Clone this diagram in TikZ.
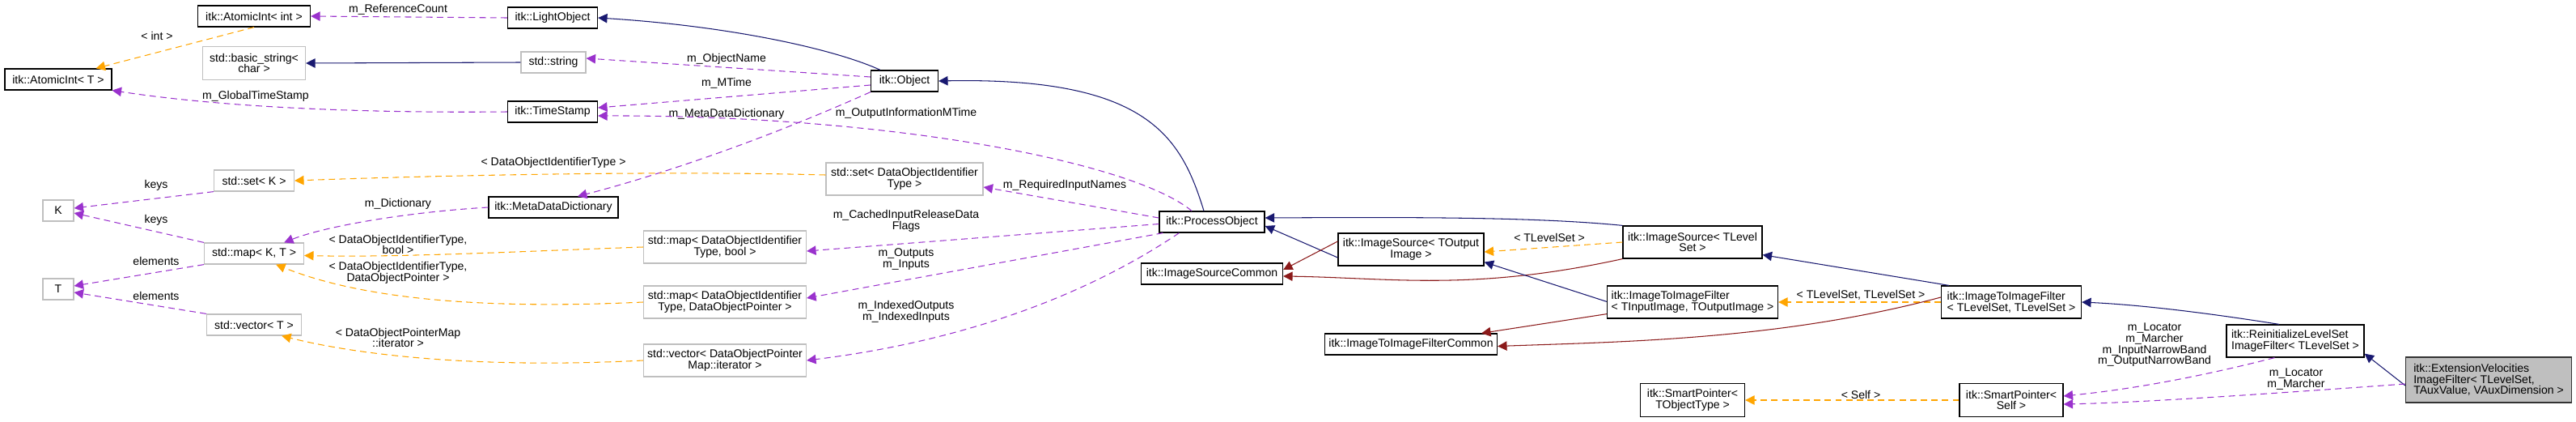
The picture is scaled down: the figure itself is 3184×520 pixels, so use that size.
\documentclass[tikz,border=0pt]{standalone}
\usepackage{fontspec}
\setmainfont{Liberation Sans}
\usetikzlibrary{arrows.meta}
\definecolor{inhcol}{HTML}{191970}
\definecolor{memcol}{HTML}{9A32CD}
\definecolor{tplcol}{HTML}{FFA500}
\definecolor{comcol}{HTML}{8B1A1A}
\definecolor{extcol}{HTML}{BFBFBF}
\begin{document}
\begin{tikzpicture}[x=0.2mm, y=-0.2mm, >={Triangle[length=6.5pt, width=6.5pt]},
    font=\fontsize{8}{7.8}\selectfont,
    sz/.style 2 args={minimum width=#1*0.2mm, minimum height=#2*0.2mm}]
  \tikzstyle{cls} = [draw=black, line width=0.7pt, rectangle, inner sep=0pt, align=center]
  \tikzstyle{ext} = [cls, draw=extcol]
  \tikzstyle{cur} = [cls, fill=extcol, draw=black!80]
  \tikzstyle{lbl} = [inner sep=0pt, align=center]
  \tikzstyle{inh} = [->, draw=inhcol, line width=0.6pt]
  \tikzstyle{memb} = [->, draw=memcol, line width=0.6pt, dash pattern=on 4.5pt off 3pt]
  \tikzstyle{tmpl} = [->, draw=tplcol, line width=0.6pt, dash pattern=on 4.5pt off 3pt]
  \tikzstyle{comm} = [->, draw=comcol, line width=0.6pt]
  \useasboundingbox (0,0) rectangle (3184,520);

  % left column
  \node [cls, sz={139}{26}] (aint) at (314,20) {itk::AtomicInt< int >};
  \node [cls, sz={132}{26}] (aintT) at (72,98) {itk::AtomicInt< T >};
  \node [ext, sz={127}{41}] (bstr) at (314,78) {std::basic\_string<\\char >};
  \node [ext, sz={99}{26}] (setk) at (314,223) {std::set< K >};
  \node [ext, sz={38}{26}] (keyK) at (72,260) {K};
  \node [ext, sz={123}{26}] (mapkt) at (314,313) {std::map< K, T >};
  \node [ext, sz={38}{26}] (valT) at (72,357) {T};
  \node [ext, sz={117}{26}] (vect) at (314,401) {std::vector< T >};

  % middle
  \node [cls, sz={111}{26}] (light) at (683,22) {itk::LightObject};
  \node [ext, sz={80}{26}] (str) at (684,77) {std::string};
  \node [cls, sz={111}{26}] (ts) at (683,138) {itk::TimeStamp};
  \node [cls, sz={160}{26}] (mdd) at (684,256) {itk::MetaDataDictionary};
  \node [ext, sz={201}{40}] (mapb) at (896,305) {std::map< DataObjectIdentifier\\Type, bool >};
  \node [ext, sz={201}{40}] (mapd) at (896,373) {std::map< DataObjectIdentifier\\Type, DataObjectPointer >};
  \node [ext, sz={201}{40}] (vecd) at (896,445) {std::vector< DataObjectPointer\\Map::iterator >};
  \node [ext, sz={194}{40}] (setd) at (1118,221) {std::set< DataObjectIdentifier\\Type >};
  \node [cls, sz={83}{26}] (obj) at (1118,100) {itk::Object};
  \node [cls, sz={130}{26}] (po) at (1498,274) {itk::ProcessObject};
  \node [cls, sz={175}{26}] (isc) at (1498,338) {itk::ImageSourceCommon};
  \node [cls, sz={180}{40}] (isto) at (1744,308) {itk::ImageSource< TOutput\\Image >};
  \node [cls, sz={213}{26}] (i2ic) at (1744,425) {itk::ImageToImageFilterCommon};

  % right
  \node [cls, sz={172}{40}] (isl) at (2092,299) {itk::ImageSource< TLevel\\Set >};
  \node [cls, sz={211}{40}, align=left] (i2in) at (2092,373) {itk::ImageToImageFilter\\< TInputImage, TOutputImage >};
  \node [cls, sz={173}{40}, align=left] (i2il) at (2486,373) {itk::ImageToImageFilter\\< TLevelSet, TLevelSet >};
  \node [cls, sz={129}{41}] (spobj) at (2092,494) {itk::SmartPointer<\\TObjectType >};
  \node [cls, sz={128}{41}] (spself) at (2486,494) {itk::SmartPointer<\\Self >};
  \node [cls, sz={170}{40}, align=left] (reinit) at (2837,421) {itk::ReinitializeLevelSet\\ImageFilter< TLevelSet >};
  \node [cur, sz={205}{56}, align=left] (extvel) at (3076,469) {itk::ExtensionVelocities\\ImageFilter< TLevelSet,\\ TAuxValue, VAuxDimension >};

  % edges
  \draw [memb] (light.west) -- (aint.east) node [lbl, at={(492,12)}] {m\_ReferenceCount};
  \draw [tmpl] (aint.south) -- ([xshift=-4mm]aintT.north east) node [lbl, at={(194,44)}] {< int >};
  \draw [inh] (str.west) -- (bstr.east);
  \draw [memb] (ts.west) .. controls (420,140) and (260,130) .. (aintT.south east) node [lbl, at={(316,119)}] {m\_GlobalTimeStamp};
  \draw [inh] ([xshift=-6mm]obj.north) .. controls (1030,60) and (900,32) .. (light.east);
  \draw [memb] ([yshift=1mm]obj.west) -- ([yshift=1mm]str.east) node [lbl, at={(898,73)}] {m\_ObjectName};
  \draw [memb] ([yshift=-1mm]obj.west) -- ([yshift=1mm]ts.east) node [lbl, at={(898,103)}] {m\_MTime};
  \draw [memb] (obj.south west) .. controls (950,170) and (820,215) .. ([xshift=6mm]mdd.north) node [lbl, at={(898,141)}] {m\_MetaDataDictionary};
  \draw [memb] ([xshift=-5mm]po.north) .. controls (1400,200) and (1100,142) .. ([yshift=-1mm]ts.east) node [lbl, at={(1120,140)}] {m\_OutputInformationMTime};
  \draw [inh] ([xshift=-2mm]po.north) .. controls (1460,170) and (1420,95) .. (obj.east);
  \draw [memb] (mdd.west) .. controls (500,262) and (400,280) .. ([xshift=-5mm]mapkt.north east) node [lbl, at={(492,252)}] {m\_Dictionary};
  \draw [memb] (setk.south west) -- ([yshift=0.6mm]keyK.east) node [lbl, at={(193,229)}] {keys};
  \draw [memb] (mapkt.north west) -- ([yshift=-0.6mm]keyK.east) node [lbl, at={(193,272)}] {keys};
  \draw [memb] (mapkt.south west) -- ([yshift=0.8mm]valT.east) node [lbl, at={(193,322)}] {elements};
  \draw [memb] (vect.north west) -- ([yshift=-0.8mm]valT.east) node [lbl, at={(193,365)}] {elements};
  \draw [tmpl] ([yshift=1mm]setd.west) .. controls (800,210) and (500,218) .. (setk.east) node [lbl, at={(684,201)}] {< DataObjectIdentifierType >};
  \draw [tmpl] (mapb.west) .. controls (650,310) and (500,318) .. ([yshift=-0.5mm]mapkt.east) node [lbl, at={(492,302)}] {< DataObjectIdentifierType,\\bool >};
  \draw [tmpl] (mapd.west) .. controls (600,382) and (450,370) .. ([xshift=-7mm]mapkt.south east) node [lbl, at={(492,337)}] {< DataObjectIdentifierType,\\DataObjectPointer >};
  \draw [tmpl] (vecd.west) .. controls (600,455) and (450,440) .. ([xshift=-5mm]vect.south east) node [lbl, at={(492,417)}] {< DataObjectPointerMap\\::iterator >};
  \draw [memb] ([yshift=1mm]po.west) -- ([yshift=-2mm]setd.east) node [lbl, at={(1316,229)}] {m\_RequiredInputNames};
  \draw [memb] ([yshift=-0.5mm]po.west) -- ([yshift=-1mm]mapb.east) node [lbl, at={(1120,273)}] {m\_CachedInputReleaseData\\Flags};
  \draw [memb] ([xshift=1mm]po.south west) -- ([yshift=1mm]mapd.east) node [lbl, at={(1120,320)}] {m\_Outputs\\m\_Inputs};
  \draw [memb] ([xshift=5mm]po.south west) .. controls (1350,360) and (1200,420) .. (vecd.east) node [lbl, at={(1120,385)}] {m\_IndexedOutputs\\m\_IndexedInputs};
  \draw [inh] ([yshift=-2mm]isto.west) -- ([yshift=-1mm]po.east);
  \draw [comm] ([yshift=-2mm]isto.west) ++(0,4mm) -- ([yshift=1mm]isc.east);
  \draw [inh] (isl.north west) .. controls (1900,268) and (1750,268) .. ([yshift=1mm]po.east);
  \draw [tmpl] (isl.west) -- ([yshift=-0.6mm]isto.east) node [lbl, at={(1915,293)}] {< TLevelSet >};
  \draw [comm] (isl.south west) .. controls (1820,360) and (1720,343) .. ([yshift=-0.6mm]isc.east);
  \draw [inh] ([yshift=-4mm]i2in.north west) -- ([yshift=1mm]isto.south east);
  \draw [comm] ([yshift=1.2mm]i2in.south west) -- ([xshift=-4mm]i2ic.north east);
  \draw [inh] ([xshift=2mm]i2il.north west) -- ([yshift=1mm]isl.south east);
  \draw [tmpl] (i2il.west) -- (i2in.east) node [lbl, at={(2300,364)}] {< TLevelSet, TLevelSet >};
  \draw [comm] ([yshift=1.2mm]i2il.west) .. controls (2200,420) and (2000,422) .. ([yshift=-0.5mm]i2ic.east);
  \draw [inh] ([xshift=-4mm]reinit.north) .. controls (2720,385) and (2640,376) .. (i2il.east);
  \draw [memb] ([xshift=1.2cm]reinit.south west) .. controls (2700,470) and (2620,482) .. ([yshift=1mm]spself.east) node [lbl, at={(2663,426)}] {m\_Locator\\m\_Marcher\\m\_InputNarrowBand\\m\_OutputNarrowBand};
  \draw [inh] ([yshift=-1.4mm]extvel.west) -- ([yshift=1mm]reinit.south east);
  \draw [memb] ([yshift=-1mm]extvel.west) .. controls (2820,485) and (2650,497) .. ([yshift=-1mm]spself.east) node [lbl, at={(2838,468)}] {m\_Locator\\m\_Marcher};
  \draw [tmpl] (spself.west) -- (spobj.east) node [lbl, at={(2300,487)}] {< Self >};
\end{tikzpicture}
\end{document}
